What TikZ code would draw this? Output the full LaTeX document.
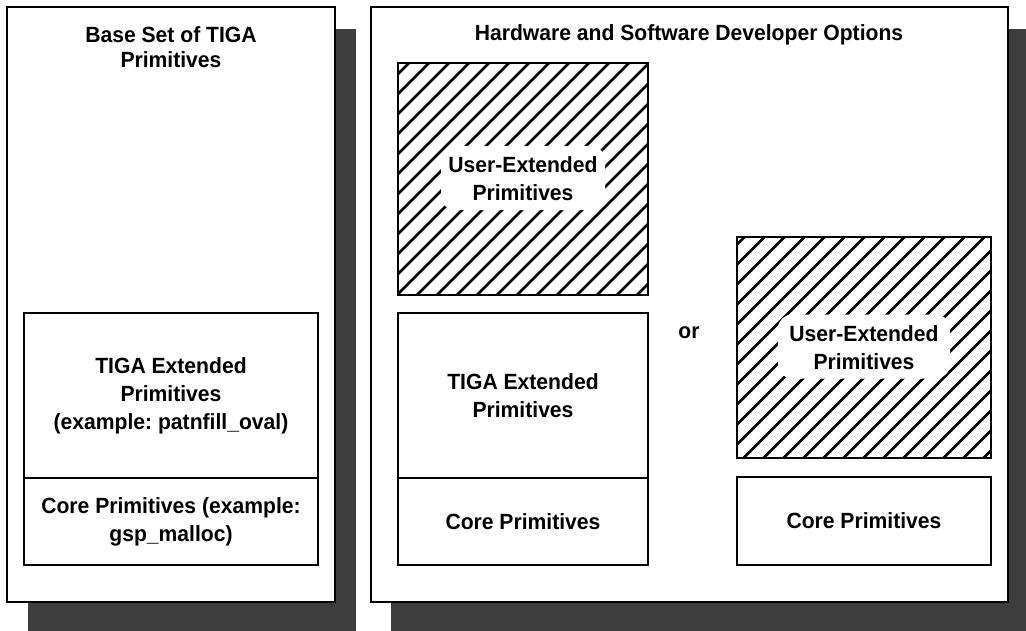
\documentclass[tikz,border=0pt]{standalone}
\usepackage{fontspec}
\setmainfont{Liberation Sans}[FakeStretch=0.96]
\usetikzlibrary{calc,backgrounds}
\frenchspacing
\newcommand\bodyfnt{\frenchspacing\bfseries\fontsize{22}{28}\selectfont}
\newcommand\titlefnt{\frenchspacing\bfseries\fontsize{22}{25}\selectfont}
\tikzset{
  panel/.style={draw, line width=2.2pt, fill=white, rectangle, inner sep=0pt, outer sep=0pt},
  shadowfill/.style={fill=black!76},
  box/.style={draw, line width=2.2pt, fill=white, rectangle, align=center, font=\bodyfnt, inner sep=0pt, outer sep=0pt},
  hatchbox/.style={box, path picture={
      \foreach \i in {-270,-250,...,270}
        \draw[line width=2.6pt] ([xshift={(\i-212.1)*1pt}, yshift=-212.1pt]path picture bounding box.center) -- ++(424.3pt,424.3pt);
      \fill[white, rounded corners=14pt] ([xshift=-#1, yshift=-31pt]path picture bounding box.center) rectangle ([xshift=#1, yshift=33pt]path picture bounding box.center);
  }},
  lbl/.style={align=center, inner sep=0pt}
}
\begin{document}
\begin{tikzpicture}[x=1pt,y=-1pt]
\useasboundingbox (0,0) rectangle (1026,630);
% panels
\node[panel, minimum width=328pt, minimum height=595pt] (lp) at (171,304.5) {};
\node[panel, minimum width=637pt, minimum height=595pt] (rp) at (689.5,304.5) {};
\begin{scope}[on background layer]
  \fill[shadowfill] ([shift={(21,22)}]lp.north west) rectangle ([shift={(21,40)}]lp.south east);
  \fill[shadowfill] ([shift={(20,22)}]rp.north west) rectangle ([shift={(20,40)}]rp.south east);
\end{scope}
% titles
\node[lbl, font=\titlefnt] (t1) at (171,47.5) {Base Set of TIGA\\Primitives};
\node[lbl, font=\titlefnt] (t2) at (689,35) {Hardware and Software Developer Options};
% left column
\node[box, minimum width=294pt, minimum height=165pt] (lext) at (171,395.5) {TIGA Extended\\Primitives\\(example: patnfill\_oval)};
\node[box, minimum width=294pt, minimum height=87pt] (lcore) at (171,521.5) {Core Primitives (example:\\gsp\_malloc)};
% right: option 1
\node[hatchbox=82pt, minimum width=250pt, minimum height=232pt] (u1) at (523,179) {User-Extended\\Primitives};
\node[box, minimum width=250pt, minimum height=165pt] (rext) at (523,395.5) {TIGA Extended\\Primitives};
\node[box, minimum width=250pt, minimum height=87pt] (rcore1) at (523,521.5) {Core Primitives};
% or
\node[lbl, font=\bodyfnt] (or) at (689,333) {or};
% right: option 2
\node[hatchbox=86pt, minimum width=254pt, minimum height=221pt] (u2) at (864,347.5) {User-Extended\\Primitives};
\node[box, minimum width=254pt, minimum height=88pt] (rcore2) at (864,521) {Core Primitives};
\end{tikzpicture}
\end{document}
